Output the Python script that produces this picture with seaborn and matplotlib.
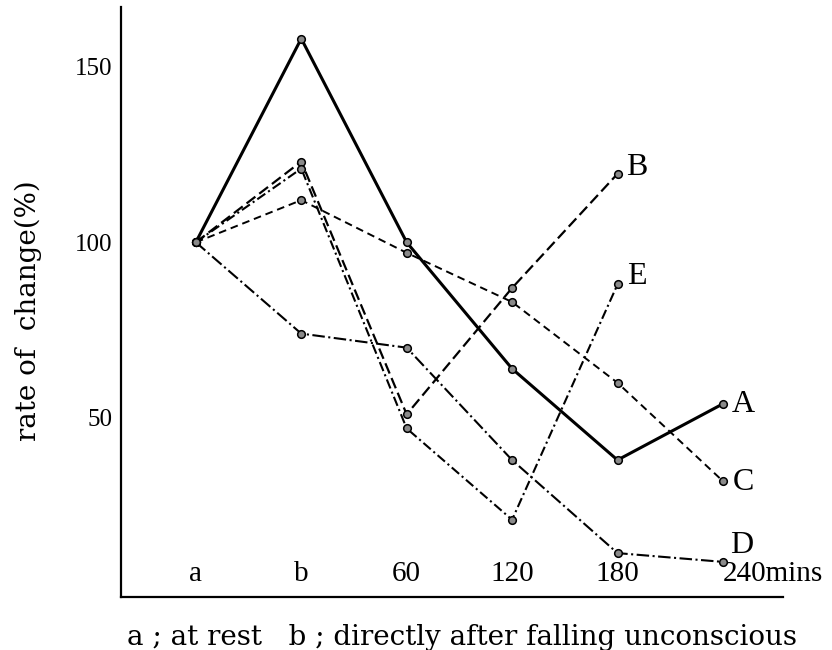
import matplotlib
matplotlib.use('Agg')
import matplotlib.pyplot as plt
import seaborn as sns
import pandas as pd

categories = ['a', 'b', '60', '120', '180', '240mins']
series_names = ['A', 'B', 'C', 'D', 'E']
series_A = [100, 158, 100, 64, 38, 54]
series_B = [100, 123, 51, 87, 119.5]
series_C = [100, 112, 97, 83, 60, 32]
series_D = [100, 74, 70, 38, 11.5, 9]
series_E = [100, 121, 47, 21, 88]
y_ticks = [50, 100, 150]
ylabel_text = 'rate of  change(%)'
caption_text = 'a ; at rest   b ; directly after falling unconscious'

sns.set_theme(style='white')
plt.rcParams['font.family'] = ['Liberation Serif', 'DejaVu Serif']
plt.rcParams['lines.scale_dashes'] = False

fig = plt.figure(figsize=(8.32, 6.5), dpi=100)
ax = fig.add_axes([121/832, 53/650, 662/832, 590/650])

all_series = [series_A, series_B, series_C, series_D, series_E]
styles = {
    'A': dict(linestyle='-', linewidth=2.2),
    'B': dict(linestyle=(0, (8, 3.5)), linewidth=1.6),
    'C': dict(linestyle=(0, (5.5, 3.5)), linewidth=1.4),
    'D': dict(linestyle=(0, (9, 2.5, 1.5, 2.5)), linewidth=1.5),
    'E': dict(linestyle=(0, (7, 2.5, 1.5, 2.5)), linewidth=1.5),
}
label_offsets = {'A': (9, -1), 'B': (9, 6), 'C': (10, -1), 'D': (7, 16), 'E': (10, 8)}

for name, vals in zip(series_names, all_series):
    df = pd.DataFrame({'x': list(range(len(vals))), 'y': vals})
    sns.lineplot(data=df, x='x', y='y', ax=ax, color='black', sort=False,
                 marker='o', markersize=5.5, markerfacecolor='#8a8a8a',
                 markeredgecolor='black', markeredgewidth=1.1, legend=False,
                 **styles[name])
    ax.annotate(name, xy=(len(vals) - 1, vals[-1]), xytext=label_offsets[name],
                textcoords='offset pixels', ha='left', va='center',
                fontsize=23, color='black')

ax.set_xlim(-0.71, 5.57)
ax.set_ylim(-1, 167)
ax.set_xticks(range(len(categories)))
ax.set_xticklabels(categories, fontsize=21)
ax.set_yticks(y_ticks)
ax.set_yticklabels([str(t) for t in y_ticks], fontsize=18)
for lab in ax.get_xticklabels():
    lab.set_va('baseline')
ax.get_xticklabels()[-1].set_ha('left')
ax.tick_params(axis='x', direction='in', length=6, width=1.2, pad=-11.5, colors='black')
ax.tick_params(axis='y', direction='in', length=6, width=1.2, pad=6, colors='black')
ax.set_xlabel('')
ax.set_ylabel(ylabel_text, fontsize=20, color='black', family=['DejaVu Serif'])
ax.yaxis.label.set_va('center')
ax.yaxis.set_label_coords(-0.1405, 0.485)

for side in ['top', 'right']:
    ax.spines[side].set_visible(False)
for side in ['left', 'bottom']:
    ax.spines[side].set_linewidth(1.6)
    ax.spines[side].set_color('black')

fig.text(127/832, 5/650, caption_text, ha='left', va='baseline', fontsize=20,
         color='black', family=['DejaVu Serif'])

fig.savefig('out.png', dpi=100, facecolor='white')
